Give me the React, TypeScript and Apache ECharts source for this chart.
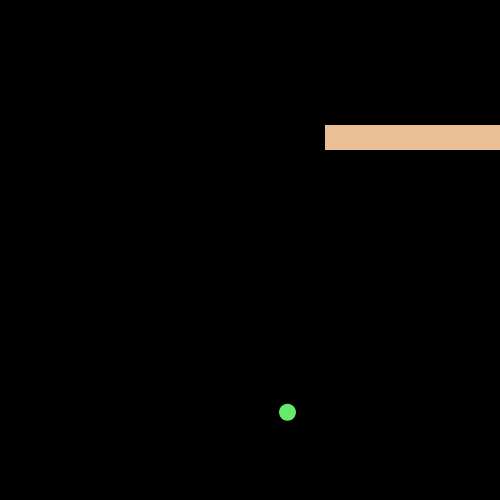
import React, { useEffect, useRef } from "react";
import * as echarts from "echarts";

// scene is in pixel units, y grows downward
const fieldSize = [500, 500];
const paddles = [[325, 125, 500, 150]]; // x0, y0, x1, y1
const balls = [[287.5, 412.3]];

const App: React.FC = () => {
  const chartRef = useRef<HTMLDivElement | null>(null);

  useEffect(() => {
    const chartDom = chartRef.current;
    if (!chartDom) return;
    const myChart = echarts.init(chartDom, undefined, { renderer: "svg" });

    const option = {
      animation: false,
      backgroundColor: "#000000",
      grid: { left: 0, right: 0, top: 0, bottom: 0 },
      xAxis: { type: "value", min: 0, max: fieldSize[0], show: false },
      yAxis: { type: "value", min: 0, max: fieldSize[1], inverse: true, show: false },
      series: [
        {
          type: "custom",
          data: paddles,
          renderItem: (_params: any, api: any) => {
            const p0 = api.coord([api.value(0), api.value(1)]);
            const p1 = api.coord([api.value(2), api.value(3)]);
            return {
              type: "rect",
              shape: {
                x: p0[0],
                y: p0[1],
                width: p1[0] - p0[0],
                height: p1[1] - p0[1],
              },
              style: { fill: "#EBBF96" },
            };
          },
        },
        {
          type: "scatter",
          data: balls,
          symbolSize: 17,
          itemStyle: { color: "#65EA6B", opacity: 1 },
        },
      ],
    };

    myChart.setOption(option);
    return () => {
      myChart.dispose();
    };
  }, []);

  return (
    <div
      ref={chartRef}
      style={{
        position: "fixed",
        top: 0,
        left: 0,
        width: 500,
        height: 500,
      }}
    />
  );
};

export default App;
